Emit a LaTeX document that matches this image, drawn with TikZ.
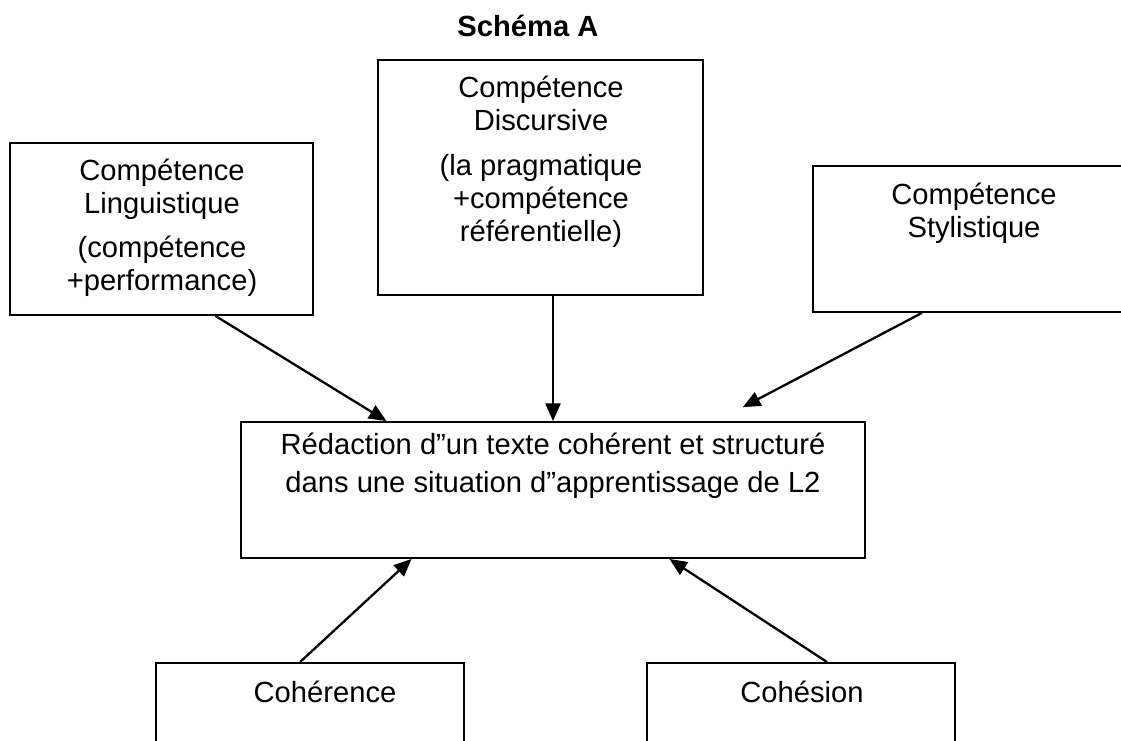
\documentclass[tikz,border=0pt]{standalone}
\usepackage{fontspec}
\setmainfont{Liberation Sans}
\usetikzlibrary{arrows.meta,fit,calc}

\begin{document}
\begin{tikzpicture}[x=0.02cm, y=-0.02cm]
   \tikzstyle{box}=[draw, line width=1.1pt, inner sep=0pt]
   \tikzstyle{txt}=[align=center, inner sep=0pt, anchor=base, font=\fontsize{16.6}{18.7}\selectfont]
   \tikzstyle{link}=[line width=1.3pt, -{Triangle[length=10pt, width=8.5pt]}]

\useasboundingbox (0,0) rectangle (1121,740);
\clip (0,0) rectangle (1121,740);

\node[txt, font=\fontsize{16.6}{18.7}\selectfont\bfseries] (titre) at (528,37) {Schéma A};

% the boxes
\node[box, fit={(10,143) (313,315)}] (ling) {};
\node[box, fit={(378,60) (703,295)}] (disc) {};
\node[box, fit={(813,166) (1135,312)}] (styl) {};
\node[box, fit={(241,422) (865,558)}] (redac) {};
\node[box, fit={(156,663) (464,780)}] (coher) {};
\node[box, fit={(647,663) (955,780)}] (cohes) {};

% their texts (placed at the baseline of the last line)
\node[txt] (ling-t) at (162,213) {Compétence\\Linguistique};
\node[txt] (ling-s) at (162,290) {(compétence\\+performance)};
\node[txt] (disc-t) at (541,130) {Compétence\\Discursive};
\node[txt] (disc-s) at (541,241) {(la pragmatique\\+compétence\\référentielle)};
\node[txt] (styl-t) at (974,237) {Compétence\\Stylistique};
\node[txt, font=\fontsize{16.6}{21.5}\selectfont] (redac-t) at (553,492) {Rédaction d"un texte cohérent et structuré\\dans une situation d"apprentissage de L2};
\node[txt] (coher-t) at (325,702) {Cohérence};
\node[txt] (cohes-t) at (802,702) {Cohésion};

% arrows
\draw[link] ($(ling.south west)!0.677!(ling.south east)$) -- ($(redac.north west)!0.234!(redac.north east)$);
\draw[link] (redac.north |- disc.south) -- (redac.north);
\draw[link, shorten >=17pt] ($(styl.south west)!0.339!(styl.south east)$) -- ($(redac.north west)!0.761!(redac.north east)$);
\draw[link] ($(coher.north west)!0.468!(coher.north east)$) -- ($(redac.south west)!0.274!(redac.south east)$);
\draw[link] ($(cohes.north west)!0.584!(cohes.north east)$) -- ($(redac.south west)!0.686!(redac.south east)$);

\end{tikzpicture}
\end{document}
